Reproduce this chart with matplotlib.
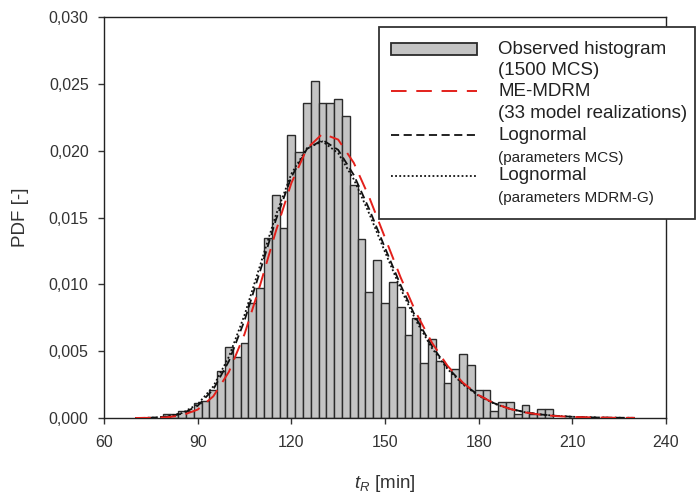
import matplotlib
matplotlib.use("Agg")
import matplotlib.pyplot as plt
from matplotlib.patches import Rectangle
from matplotlib.lines import Line2D

plt.rcParams['font.family'] = ['Liberation Sans', 'DejaVu Sans']
plt.rcParams['mathtext.fontset'] = 'custom'
plt.rcParams['mathtext.it'] = 'Liberation Sans:italic'
plt.rcParams['mathtext.rm'] = 'Liberation Sans'

# ---- histogram of t_R (1500 MCS), bin width 2.5 min ----
bin_width = 2.5
bin_centers = [80, 82.5, 85, 87.5, 90, 92.5, 95, 97.5, 100, 102.5,
               105, 107.5, 110, 112.5, 115, 117.5, 120, 122.5, 125, 127.5,
               130, 132.5, 135, 137.5, 140, 142.5, 145, 147.5, 150, 152.5,
               155, 157.5, 160, 162.5, 165, 167.5, 170, 172.5, 175, 177.5,
               180, 182.5, 185, 187.5, 190, 192.5, 195, 197.5, 200, 202.5]
pdf_observed = [0.0003, 0.0003, 0.0005, 0.0005, 0.0011, 0.0013, 0.0021, 0.0035, 0.0053, 0.0046,
                0.0056, 0.0086, 0.0097, 0.0135, 0.0167, 0.0142, 0.0212, 0.0199, 0.0236, 0.0252,
                0.0236, 0.0236, 0.0239, 0.0226, 0.0174, 0.0134, 0.0094, 0.0118, 0.0086, 0.0102,
                0.0083, 0.0062, 0.0075, 0.0041, 0.0059, 0.0043, 0.0026, 0.0037, 0.0048, 0.0040,
                0.0021, 0.0021, 0.0005, 0.0012, 0.0012, 0.0003, 0.0010, 0.0003, 0.0007, 0.0007]

# ---- fitted densities ----
curve_t = [70, 75, 80, 85, 90, 95, 100, 105, 110, 115, 120, 125, 130, 135, 140, 145,
           150, 155, 160, 165, 170, 175, 180, 185, 190, 195, 200, 205, 210, 215, 220, 225, 230]
pdf_me_mdrm = [0.0, 0.00001, 0.00005, 0.00020, 0.00063, 0.00162, 0.00345, 0.00627, 0.00994,
               0.01394, 0.01757, 0.02016, 0.02127, 0.02083, 0.01909, 0.01648, 0.01349, 0.01052,
               0.00785, 0.00565, 0.00391, 0.00263, 0.00171, 0.00109, 0.00068, 0.00041, 0.00024,
               0.00014, 0.00008, 0.00005, 0.00003, 0.00001, 0.00001]
pdf_logn_mcs = [0.0, 0.00002, 0.00009, 0.00032, 0.00091, 0.00214, 0.00425, 0.00729, 0.01099,
                0.01479, 0.01803, 0.02013, 0.02080, 0.02006, 0.01818, 0.01560, 0.01273, 0.00994,
                0.00745, 0.00540, 0.00378, 0.00257, 0.00170, 0.00110, 0.00069, 0.00043, 0.00026,
                0.00016, 0.00009, 0.00005, 0.00003, 0.00002, 0.00001]
pdf_logn_mdrmg = [0.0, 0.00002, 0.00011, 0.00037, 0.00103, 0.00236, 0.00458, 0.00770, 0.01142,
                  0.01515, 0.01826, 0.02019, 0.02069, 0.01981, 0.01786, 0.01526, 0.01242, 0.00968,
                  0.00725, 0.00524, 0.00367, 0.00250, 0.00166, 0.00107, 0.00068, 0.00042, 0.00026,
                  0.00016, 0.00009, 0.00006, 0.00003, 0.00002, 0.00001]

x_ticks = [60, 90, 120, 150, 180, 210, 240]
y_ticks = [0.0, 0.005, 0.010, 0.015, 0.020, 0.025, 0.030]
y_tick_labels = ['0,000', '0,005', '0,010', '0,015', '0,020', '0,025', '0,030']

W, H = 697, 497
fig = plt.figure(figsize=(W / 100, H / 100), dpi=100)
ax = fig.add_axes([104 / W, 1 - 418 / H, (666 - 104) / W, (418 - 17) / H])

ax.bar(bin_centers, pdf_observed, width=bin_width, color='#c4c4c4',
       edgecolor='#2b2b2b', linewidth=1.0, zorder=2)

ax.plot(curve_t, pdf_logn_mdrmg, color='#111111', lw=1.3, dashes=(1.0, 1.3), zorder=3)
ax.plot(curve_t, pdf_logn_mcs, color='#111111', lw=1.3, dashes=(4.5, 2.5), zorder=4)
ax.plot(curve_t, pdf_me_mdrm, color='#e3201b', lw=1.4, dashes=(8, 5), zorder=5)

ax.set_xlim(60, 240)
ax.set_ylim(0, 0.030)
ax.set_xticks(x_ticks)
ax.set_yticks(y_ticks)
ax.set_yticklabels(y_tick_labels)
ax.tick_params(direction='out', length=4, width=1, colors='#333333', labelsize=11.5)
ax.tick_params(axis='x', pad=8)
ax.tick_params(axis='y', pad=7)
for s in ax.spines.values():
    s.set_linewidth(1.0)
    s.set_color('#222222')

ax.set_xlabel(r'$t_R$ [min]', fontsize=13.5, color='#333333', labelpad=17)
ax.set_ylabel('PDF [-]', fontsize=13.5, color='#333333', labelpad=14)


# ---- legend box, drawn in pixel positions on the figure ----
def fx(px):
    return px / W


def fy(py):
    return 1 - py / H


fig.add_artist(Rectangle((fx(379), fy(219)), fx(695) - fx(379), fy(27) - fy(219),
                         transform=fig.transFigure, facecolor='white',
                         edgecolor='#333333', linewidth=1.3, zorder=10))
fig.add_artist(Rectangle((fx(391), fy(55)), fx(477) - fx(391), fy(43) - fy(55),
                         transform=fig.transFigure, facecolor='#c4c4c4',
                         edgecolor='#2b2b2b', linewidth=1.3, zorder=11))
fig.add_artist(Line2D([fx(391), fx(477)], [fy(91), fy(91)], transform=fig.transFigure,
                      color='#e3201b', lw=1.4, dashes=(8, 5), zorder=11))
fig.add_artist(Line2D([fx(391), fx(477)], [fy(135), fy(135)], transform=fig.transFigure,
                      color='#111111', lw=1.3, dashes=(4.5, 2.5), zorder=11))
fig.add_artist(Line2D([fx(391), fx(477)], [fy(176), fy(176)], transform=fig.transFigure,
                      color='#111111', lw=1.3, dashes=(1.0, 1.3), zorder=11))

legend_rows = [
    (49, 'Observed histogram', 13.5),
    (71, '(1500 MCS)', 13.5),
    (92, 'ME-MDRM', 13.5),
    (113, '(33 model realizations)', 13.5),
    (135, 'Lognormal', 13.5),
    (158, '(parameters MCS)', 11),
    (176, 'Lognormal', 13.5),
    (198, '(parameters MDRM-G)', 11),
]
for py, label, size in legend_rows:
    fig.text(fx(498), fy(py), label, fontsize=size, va='center', ha='left',
             color='#222222', zorder=12)

fig.savefig('out.png', dpi=100)
